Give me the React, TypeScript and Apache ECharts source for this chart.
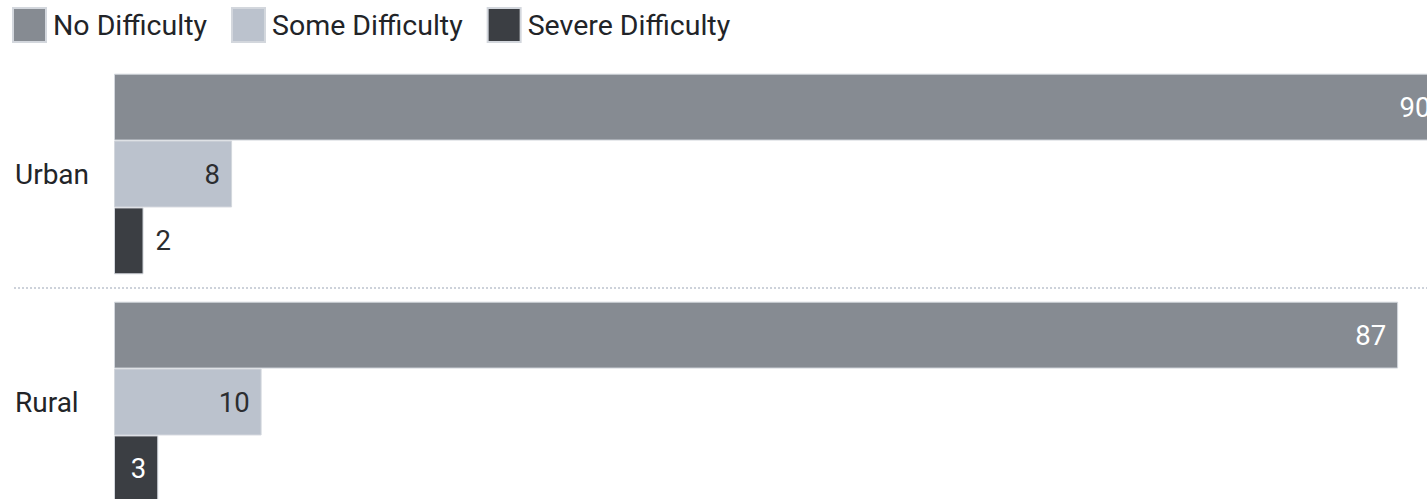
import React, { useEffect, useRef } from "react";
import * as echarts from "echarts";

const categories = ["Urban", "Rural"];
const seriesNames = ["No Difficulty", "Some Difficulty", "Severe Difficulty"];
const noDifficulty = [90, 87];
const someDifficulty = [8, 10];
const severeDifficulty = [2, 3];

const colors = ["#868b92", "#bbc2cd", "#3b3e43"];
const labelColors = ["#ffffff", "#2b2d30", "#ffffff"];

const FONT = "Roboto, 'Noto Sans', sans-serif";

// chart canvas is larger than the visible frame; the frame crops it
const CHART_W = 1590;
const CHART_H = 519;
const GRID_LEFT = 114;
const GRID_TOP = 60;
const GRID_BOTTOM = 3;

export default function App() {
  const ref = useRef<HTMLDivElement>(null);

  useEffect(() => {
    if (!ref.current) return;
    const chart = echarts.init(ref.current, undefined, { renderer: "svg" });

    const values = [noDifficulty, someDifficulty, severeDifficulty];
    const gridH = CHART_H - GRID_TOP - GRID_BOTTOM;

    const series = values.map((vals, si) => ({
      name: seriesNames[si],
      type: "bar",
      barGap: "0%",
      barCategoryGap: "12%",
      itemStyle: { color: colors[si], borderColor: "#d3d7dd", borderWidth: 1 },
      data: vals.map((v) => {
        const tiny = v < 3;
        return {
          value: v,
          label: {
            show: true,
            position: tiny ? "right" : "insideRight",
            distance: 12,
            color: tiny ? "#2b2d30" : labelColors[si],
            fontSize: 27.5,
            fontFamily: FONT,
          },
        };
      }),
    }));

    chart.setOption({
      animation: false,
      legend: {
        left: 12,
        top: 7,
        padding: 0,
        itemWidth: 33,
        itemHeight: 34,
        itemGap: 24,
        icon: "rect",
        data: seriesNames,
        textStyle: {
          fontSize: 28.5,
          color: "#222428",
          fontFamily: FONT,
          padding: [0, 0, 4, 2],
        },
      },
      grid: { left: GRID_LEFT, right: 0, top: GRID_TOP, bottom: GRID_BOTTOM },
      xAxis: {
        type: "value",
        min: 0,
        max: 100,
        show: false,
      },
      yAxis: {
        type: "category",
        data: categories,
        inverse: true,
        axisLine: { show: false },
        axisTick: { show: false },
        splitLine: { show: false },
        axisLabel: {
          align: "left",
          margin: GRID_LEFT - 15,
          fontSize: 28,
          color: "#222428",
          fontFamily: FONT,
        },
      },
      graphic: [
        {
          type: "line",
          shape: {
            x1: 14,
            y1: GRID_TOP + gridH / 2,
            x2: CHART_W,
            y2: GRID_TOP + gridH / 2,
          },
          style: { stroke: "#cdd2da", lineWidth: 2, lineDash: [2, 2] },
          silent: true,
        },
      ],
      series,
    });

    return () => chart.dispose();
  }, []);

  return (
    <div
      style={{
        position: "fixed",
        left: 0,
        top: 0,
        width: 1427,
        height: 499,
        overflow: "hidden",
        background: "#ffffff",
      }}
    >
      <div ref={ref} style={{ width: CHART_W, height: CHART_H }} />
    </div>
  );
}
